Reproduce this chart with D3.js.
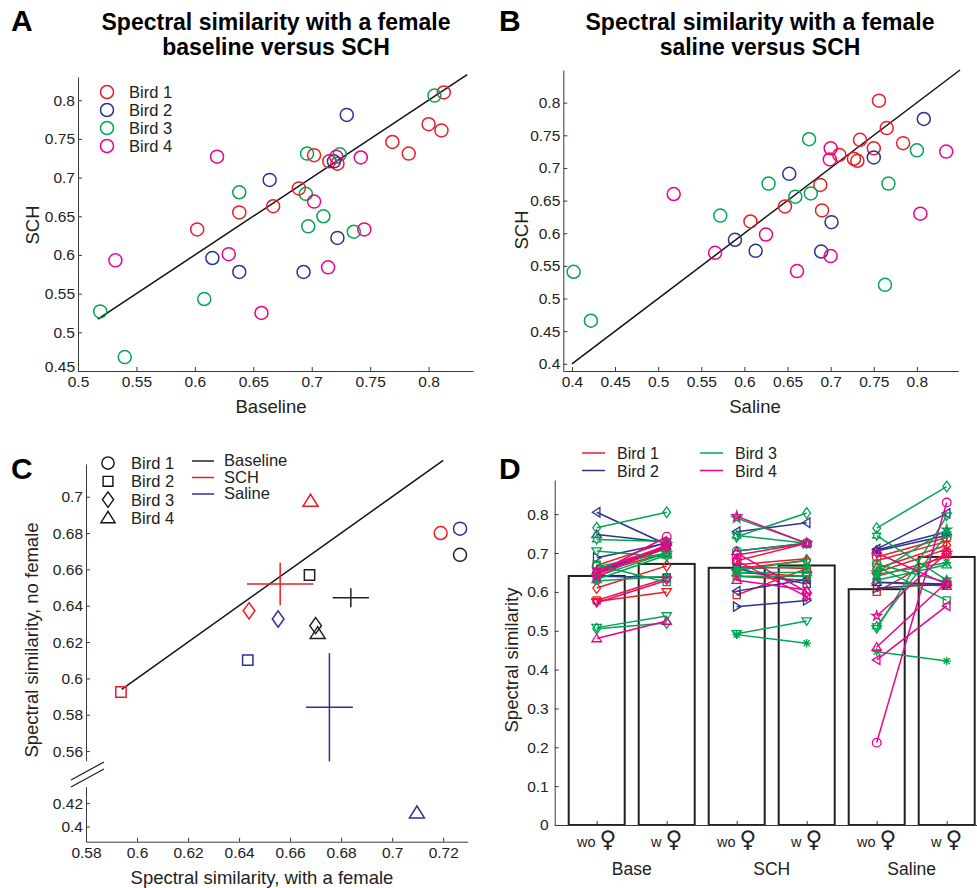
<!DOCTYPE html>
<html>
<head>
<meta charset="utf-8">
<script src="https://cdn.jsdelivr.net/npm/d3@7"></script>
<style>
body { margin: 0; background: #fff; }
svg { font-family: "Liberation Sans", Arial, sans-serif; }
</style>
</head>
<body>
<svg id="fig" width="977" height="888"></svg>
<script>
// ---- data ----
var birds = ["Bird 1", "Bird 2", "Bird 3", "Bird 4"]
var birdColors = ["#ed1c24", "#2e3192", "#00a651", "#ec008c"]

// panel A: [bird, baseline, SCH]
var aPoints = [
  [0,0.602,0.633],[0,0.638,0.655],[0,0.667,0.663],[0,0.689,0.686],[0,0.702,0.729],[0,0.715,0.721],
  [0,0.722,0.718],[0,0.769,0.746],[0,0.783,0.731],[0,0.800,0.769],[0,0.811,0.761],[0,0.813,0.810],
  [1,0.615,0.596],[1,0.638,0.578],[1,0.664,0.697],[1,0.693,0.578],[1,0.719,0.721],[1,0.722,0.622],[1,0.730,0.781],
  [2,0.519,0.527],[2,0.540,0.468],[2,0.608,0.543],[2,0.638,0.681],[2,0.696,0.731],[2,0.695,0.679],
  [2,0.697,0.637],[2,0.710,0.650],[2,0.724,0.730],[2,0.736,0.630],[2,0.805,0.806],
  [3,0.532,0.593],[3,0.619,0.727],[3,0.629,0.601],[3,0.657,0.525],[3,0.702,0.669],[3,0.714,0.584],
  [3,0.721,0.727],[3,0.742,0.726],[3,0.745,0.633]
]
var aTicksX = [0.5,0.55,0.6,0.65,0.7,0.75,0.8]
var aTicksY = [0.45,0.5,0.55,0.6,0.65,0.7,0.75,0.8]

// panel B: [bird, saline, SCH]
var bPoints = [
  [0,0.607,0.618],[0,0.647,0.641],[0,0.688,0.674],[0,0.690,0.635],[0,0.710,0.720],[0,0.727,0.714],
  [0,0.731,0.711],[0,0.734,0.743],[0,0.750,0.730],[0,0.756,0.803],[0,0.765,0.761],[0,0.784,0.738],
  [1,0.589,0.590],[1,0.613,0.573],[1,0.652,0.691],[1,0.689,0.572],[1,0.701,0.617],[1,0.750,0.716],[1,0.808,0.775],
  [2,0.402,0.541],[2,0.422,0.466],[2,0.572,0.627],[2,0.628,0.676],[2,0.659,0.656],[2,0.677,0.661],
  [2,0.675,0.744],[2,0.767,0.676],[2,0.763,0.521],[2,0.800,0.727],
  [3,0.518,0.660],[3,0.566,0.570],[3,0.625,0.598],[3,0.661,0.542],[3,0.700,0.565],[3,0.700,0.730],
  [3,0.699,0.713],[3,0.804,0.630],[3,0.834,0.725]
]
var bTicksX = [0.4,0.45,0.5,0.55,0.6,0.65,0.7,0.75,0.8]
var bTicksY = [0.4,0.45,0.5,0.55,0.6,0.65,0.7,0.75,0.8]

// panel C: conditions, per-bird points [condition, bird, with female, no female]
var conditions = ["Baseline", "SCH", "Saline"]
var condColors = ["#231f20", "#ed1c24", "#2e3192"]
var birdShapes = ["o", "s", "d", "^"]
var cPoints = [
  [0,0,0.7266,0.668],[0,1,0.6676,0.6569],[0,2,0.670,0.629],[0,3,0.6708,0.6248],
  [1,0,0.719,0.680],[1,1,0.5937,0.5925],[1,2,0.6439,0.6372],[1,3,0.668,0.6976],
  [2,0,0.7266,0.6824],[2,1,0.6434,0.6101],[2,2,0.6553,0.6327],[2,3,0.7097,0.4117]
]
// mean and error [condition, x, xerr, y, yerr]
var cMeans = [
  [0,0.6838,0.0071,0.6444,0.0052],
  [1,0.6561,0.0130,0.6519,0.0117],
  [2,0.6754,0.0092,0.5841,0.0298]
]
var cTicksX = [0.58,0.6,0.62,0.64,0.66,0.68,0.7,0.72]
var cTicksYTop = [0.56,0.58,0.6,0.62,0.64,0.66,0.68,0.7]
var cTicksYBottom = [0.4,0.42]

// panel D: bar means (wo female, w female) per condition
var dGroups = ["Base", "SCH", "Saline"]
var dBars = [0.641, 0.672, 0.662, 0.668, 0.607, 0.690]
var dTicksY = [0,0.1,0.2,0.3,0.4,0.5,0.6,0.7,0.8]
// lines: [bird, marker, wo female, w female]
var baseLines = [
  [0,"o",0.668,0.728],[0,"+",0.658,0.718],[0,"d",0.610,0.667],[0,"s",0.578,0.635],
  [0,"v",0.575,0.600],[0,"^",0.650,0.700],[0,"*",0.645,0.712],
  [1,"<",0.805,0.722],[1,"^",0.748,0.728],[1,">",0.688,0.725],[1,"s",0.640,0.637],[1,"+",0.650,0.715],
  [2,"d",0.765,0.805],[2,"h",0.735,0.730],[2,"v",0.705,0.690],[2,"o",0.665,0.700],[2,"p",0.640,0.700],
  [2,"^",0.632,0.695],[2,"*",0.628,0.640],[2,"s",0.670,0.625],[2,"v",0.508,0.538],[2,"d",0.505,0.520],
  [3,"o",0.648,0.742],[3,"p",0.638,0.722],[3,"v",0.572,0.630],[3,"^",0.480,0.525],[3,"h",0.655,0.715]
]
var schLines = [
  [0,"o",0.680,0.725],[0,"+",0.670,0.685],[0,"d",0.660,0.680],[0,"s",0.592,0.660],
  [0,"v",0.650,0.640],[0,"^",0.665,0.660],[0,"*",0.640,0.630],
  [1,"<",0.755,0.778],[1,"^",0.705,0.725],[1,"<",0.602,0.632],[1,">",0.562,0.578],[1,"s",0.660,0.620],
  [2,"d",0.742,0.803],[2,"h",0.745,0.725],[2,"p",0.790,0.725],[2,"o",0.705,0.725],[2,"d",0.655,0.682],
  [2,"^",0.650,0.650],[2,"s",0.640,0.640],[2,"*",0.660,0.665],[2,"v",0.492,0.525],[2,"*",0.490,0.468],
  [3,"p",0.795,0.725],[3,"o",0.695,0.725],[3,"h",0.680,0.588],[3,"^",0.630,0.605],[3,"d",0.700,0.600]
]
var salineLines = [
  [0,"o",0.690,0.740],[0,"+",0.680,0.730],[0,"d",0.660,0.720],[0,"s",0.600,0.700],
  [0,"v",0.640,0.690],[0,"^",0.625,0.615],[0,"*",0.650,0.710],
  [1,"^",0.708,0.755],[1,"<",0.710,0.802],[1,"s",0.625,0.620],[1,">",0.610,0.620],[1,"+",0.705,0.745],
  [2,"d",0.764,0.871],[2,"h",0.745,0.630],[2,"o",0.672,0.625],[2,"s",0.665,0.578],[2,"p",0.650,0.760],
  [2,"*",0.645,0.675],[2,"^",0.630,0.670],[2,"h",0.512,0.748],[2,"v",0.505,0.795],[2,"*",0.446,0.422],
  [3,"o",0.212,0.830],[3,"p",0.538,0.700],[3,"^",0.458,0.625],[3,"<",0.425,0.564],[3,"h",0.700,0.620]
]

// ---- helpers ----
var svg = d3.select('#fig')
var axisColor = '#3a3a3a'
var fmt = function(d){ return String(+d.toFixed(2)) }

function shapePath(t, s){
  var i, pts = []
  switch(t){
    case 'o': return 'M'+s+',0A'+s+','+s+' 0 1,1 '+(-s)+',0A'+s+','+s+' 0 1,1 '+s+',0Z'
    case 's': var h = s*0.82; return 'M'+(-h)+','+(-h)+'H'+h+'V'+h+'H'+(-h)+'Z'
    case 'd': return 'M0,'+(-s*1.25)+'L'+(s*0.9)+',0L0,'+(s*1.25)+'L'+(-s*0.9)+',0Z'
    case '^': return 'M0,'+(-s)+'L'+(s*1.1)+','+(s*0.75)+'L'+(-s*1.1)+','+(s*0.75)+'Z'
    case 'v': return 'M0,'+s+'L'+(s*1.1)+','+(-s*0.75)+'L'+(-s*1.1)+','+(-s*0.75)+'Z'
    case '<': return 'M'+(-s)+',0L'+(s*0.75)+','+(-s*1.1)+'L'+(s*0.75)+','+(s*1.1)+'Z'
    case '>': return 'M'+s+',0L'+(-s*0.75)+','+(-s*1.1)+'L'+(-s*0.75)+','+(s*1.1)+'Z'
    case 'p':
      for(i=0;i<10;i++){
        var r = i%2 ? s*0.42 : s*1.15, a = -Math.PI/2 + i*Math.PI/5
        pts.push([r*Math.cos(a), r*Math.sin(a)])
      }
      return 'M'+pts.join('L')+'Z'
    case 'h':
      for(i=0;i<12;i++){
        var r2 = i%2 ? s*0.6 : s*1.1, a2 = -Math.PI/2 + i*Math.PI/6
        pts.push([r2*Math.cos(a2), r2*Math.sin(a2)])
      }
      return 'M'+pts.join('L')+'Z'
    case '*':
      var k = s*0.72
      return 'M0,'+(-s)+'V'+s+'M'+(-s)+',0H'+s+'M'+(-k)+','+(-k)+'L'+k+','+k+'M'+(-k)+','+k+'L'+k+','+(-k)
    case '+': return 'M0,'+(-s)+'V'+s+'M'+(-s)+',0H'+s
  }
}

function styleAxis(g, size){
  g.select('.domain').attr('stroke', axisColor)
  g.selectAll('.tick line').attr('stroke', axisColor)
  g.selectAll('.tick text').attr('fill', '#222').style('font-size', (size || 15.5) + 'px')
    .style('font-family', '"Liberation Sans", Arial, sans-serif')
}

function title(x, lines){
  svg.append('text').attr('x', x).attr('y', 30).attr('text-anchor','middle')
    .style('font-size','23px').style('font-weight','bold').text(lines[0])
  svg.append('text').attr('x', x).attr('y', 55).attr('text-anchor','middle')
    .style('font-size','23px').style('font-weight','bold').text(lines[1])
}
function letter(x, y, t){
  svg.append('text').attr('x', x).attr('y', y).style('font-size','30px').style('font-weight','bold').text(t)
}
function yLabel(x, y, t){
  svg.append('text').attr('transform','translate('+x+','+y+') rotate(-90)').attr('text-anchor','middle')
    .style('font-size','18.5px').attr('fill','#222').text(t)
}
function xLabel(x, y, t){
  svg.append('text').attr('x', x).attr('y', y).attr('text-anchor','middle')
    .style('font-size','18.5px').attr('fill','#222').text(t)
}

// ---- panel A ----
var ax = d3.scaleLinear().domain([0.5, 0.838]).range([78, 473])
var ay = d3.scaleLinear().domain([0.45, 0.83]).range([371, 77])
letter(11, 31, 'A')
title(276, ['Spectral similarity with a female', 'baseline versus SCH'])
svg.append('g').attr('transform','translate(0,371)')
  .call(d3.axisBottom(ax).tickValues(aTicksX).tickFormat(fmt).tickSizeInner(-4).tickSizeOuter(0).tickPadding(5))
  .call(styleAxis)
svg.append('g').attr('transform','translate(78,0)')
  .call(d3.axisLeft(ay).tickValues(aTicksY).tickFormat(fmt).tickSizeInner(-4).tickSizeOuter(0).tickPadding(3))
  .call(styleAxis)
  .selectAll('.tick text').filter(function(d){ return d === 0.45 }).attr('dy','0.05em')
svg.append('line').attr('x1', ax(0.517)).attr('y1', ay(0.517)).attr('x2', ax(0.833)).attr('y2', ay(0.833))
  .attr('stroke','#111').attr('stroke-width',1.5)
svg.append('g').selectAll('circle').data(aPoints).enter().append('circle')
  .attr('cx', function(d){ return ax(d[1]) }).attr('cy', function(d){ return ay(d[2]) })
  .attr('r', 6.5).attr('fill','none').attr('stroke-width',1.5)
  .attr('stroke', function(d){ return birdColors[d[0]] })
var aLeg = svg.append('g').selectAll('g').data(birds).enter().append('g')
  .attr('transform', function(d,i){ return 'translate(107,' + (92 + i*18) + ')' })
aLeg.append('circle').attr('r',6.5).attr('fill','none').attr('stroke-width',1.5)
  .attr('stroke', function(d,i){ return birdColors[i] })
aLeg.append('text').attr('x',22).attr('y',6).style('font-size','16.5px').attr('fill','#222').text(function(d){ return d })
xLabel(271, 413, 'Baseline')
yLabel(39, 225, 'SCH')

// ---- panel B ----
var bx = d3.scaleLinear().domain([0.39, 0.848]).range([563.3, 958.3])
var by = d3.scaleLinear().domain([0.389, 0.85]).range([371, 70])
letter(499, 31, 'B')
title(760, ['Spectral similarity with a female', 'saline versus SCH'])
svg.append('g').attr('transform','translate(0,371)')
  .call(d3.axisBottom(bx).tickValues(bTicksX).tickFormat(fmt).tickSizeInner(-4).tickSizeOuter(0).tickPadding(5))
  .call(styleAxis)
svg.append('g').attr('transform','translate(563.3,0)')
  .call(d3.axisLeft(by).tickValues(bTicksY).tickFormat(fmt).tickSizeInner(-4).tickSizeOuter(0).tickPadding(3))
  .call(styleAxis)
svg.append('line').attr('x1', bx(0.4)).attr('y1', by(0.4)).attr('x2', bx(0.85)).attr('y2', by(0.85))
  .attr('stroke','#111').attr('stroke-width',1.5)
svg.append('g').selectAll('circle').data(bPoints).enter().append('circle')
  .attr('cx', function(d){ return bx(d[1]) }).attr('cy', function(d){ return by(d[2]) })
  .attr('r', 6.5).attr('fill','none').attr('stroke-width',1.5)
  .attr('stroke', function(d){ return birdColors[d[0]] })
xLabel(755, 413, 'Saline')
yLabel(528, 230, 'SCH')

// ---- panel C ----
var cx = d3.scaleLinear().domain([0.58, 0.7296]).range([86, 467.7])
var cyTop = d3.scaleLinear().domain([0.5547, 0.718]).range([760.7, 464])
var cyBot = d3.scaleLinear().domain([0.387, 0.434]).range([841.7, 786.7])
function cy(v){ return v < 0.5 ? cyBot(v) : cyTop(v) }
letter(11, 479, 'C')
svg.append('g').attr('transform','translate(0,841.7)')
  .call(d3.axisBottom(cx).tickValues(cTicksX).tickFormat(fmt).tickSizeInner(-4).tickSizeOuter(0).tickPadding(5))
  .call(styleAxis)
svg.append('g').attr('transform','translate(86,0)')
  .call(d3.axisLeft(cyTop).tickValues(cTicksYTop).tickFormat(fmt).tickSizeInner(-4).tickSizeOuter(0).tickPadding(3))
  .call(styleAxis)
svg.append('g').attr('transform','translate(86,0)')
  .call(d3.axisLeft(cyBot).tickValues(cTicksYBottom).tickFormat(fmt).tickSizeInner(-4).tickSizeOuter(0).tickPadding(3))
  .call(styleAxis)
// axis break
svg.append('path').attr('d','M71,780L104,762M71,787L104,769').attr('stroke','#222').attr('stroke-width',1.3)
svg.append('line').attr('x1', cx(0.594)).attr('y1', cy(0.594)).attr('x2', cx(0.72)).attr('y2', cy(0.72))
  .attr('stroke','#111').attr('stroke-width',1.5)
var shapeSize = { o: 6.5, s: 6.3, d: 6.5, '^': 6.8 }
svg.append('g').selectAll('path').data(cPoints).enter().append('path')
  .attr('transform', function(d){ return 'translate(' + cx(d[2]) + ',' + cy(d[3]) + ')' })
  .attr('d', function(d){ var t = birdShapes[d[1]]; return shapePath(t, shapeSize[t]) })
  .attr('fill','none').attr('stroke-width',1.5)
  .attr('stroke', function(d){ return condColors[d[0]] })
var crosses = svg.append('g').selectAll('g').data(cMeans).enter().append('g')
  .attr('stroke', function(d){ return condColors[d[0]] }).attr('stroke-width',1.5)
crosses.append('line')
  .attr('x1', function(d){ return cx(d[1]-d[2]) }).attr('x2', function(d){ return cx(d[1]+d[2]) })
  .attr('y1', function(d){ return cy(d[3]) }).attr('y2', function(d){ return cy(d[3]) })
crosses.append('line')
  .attr('x1', function(d){ return cx(d[1]) }).attr('x2', function(d){ return cx(d[1]) })
  .attr('y1', function(d){ return cy(d[3]-d[4]) }).attr('y2', function(d){ return cy(d[3]+d[4]) })
var cLeg = svg.append('g').selectAll('g').data(birds).enter().append('g')
  .attr('transform', function(d,i){ return 'translate(108,' + (463 + i*18.3) + ')' })
cLeg.append('path').attr('d', function(d,i){ var t = birdShapes[i]; return shapePath(t, shapeSize[t]*0.95) })
  .attr('fill','none').attr('stroke','#111').attr('stroke-width',1.4)
cLeg.append('text').attr('x',23).attr('y',6).style('font-size','16.5px').attr('fill','#222').text(function(d){ return d })
var cLeg2 = svg.append('g').selectAll('g').data(conditions).enter().append('g')
  .attr('transform', function(d,i){ return 'translate(192,' + (461 + i*16.5) + ')' })
cLeg2.append('line').attr('x1',0).attr('x2',22).attr('stroke-width',1.5)
  .attr('stroke', function(d,i){ return condColors[i] })
cLeg2.append('text').attr('x',32).attr('y',5).style('font-size','16.5px').attr('fill','#222').text(function(d){ return d })
xLabel(262, 884, 'Spectral similarity, with a female')
yLabel(38, 640, 'Spectral similarity, no female')

// ---- panel D ----
var dx = d3.scaleLinear().domain([0.4, 6.6]).range([554.7, 988.7])
var dy = d3.scaleLinear().domain([0, 0.888]).range([825, 480])
letter(499, 479, 'D')
svg.append('g').selectAll('rect').data(dBars).enter().append('rect')
  .attr('x', function(d,i){ return dx(i + 1 - 0.4) }).attr('width', dx(1.8) - dx(1))
  .attr('y', function(d){ return dy(d) }).attr('height', function(d){ return dy(0) - dy(d) })
  .attr('fill','#fff').attr('stroke','#231f20').attr('stroke-width',2)
svg.append('g').attr('transform','translate(0,825)')
  .call(d3.axisBottom(dx).tickValues([1,2,3,4,5,6]).tickFormat('').tickSizeInner(-4).tickSizeOuter(0))
  .call(styleAxis)
svg.append('g').attr('transform','translate(554.7,0)')
  .call(d3.axisLeft(dy).tickValues(dTicksY).tickFormat(fmt).tickSizeInner(-4).tickSizeOuter(0).tickPadding(6))
  .call(styleAxis)

var allLines = [baseLines, schLines, salineLines]
allLines.forEach(function(lines, gi){
  var xWo = dx(gi*2 + 1), xW = dx(gi*2 + 2)
  var g = svg.append('g')
  var sorted = lines.slice().sort(function(a,b){ return a[0] - b[0] })
  var item = g.selectAll('g').data(sorted).enter().append('g')
    .attr('stroke', function(d){ return birdColors[d[0]] }).attr('fill','none')
  item.append('line').attr('x1', xWo).attr('x2', xW)
    .attr('y1', function(d){ return dy(d[2]) }).attr('y2', function(d){ return dy(d[3]) })
    .attr('stroke-width',1.5)
  item.append('path').attr('transform', function(d){ return 'translate(' + xWo + ',' + dy(d[2]) + ')' })
    .attr('d', function(d){ return shapePath(d[1], 4.3) }).attr('stroke-width',1.3)
  item.append('path').attr('transform', function(d){ return 'translate(' + xW + ',' + dy(d[3]) + ')' })
    .attr('d', function(d){ return shapePath(d[1], 4.3) }).attr('stroke-width',1.3)
})

// x tick labels
var tickLab = svg.append('g').selectAll('text').data([1,2,3,4,5,6]).enter().append('text')
  .attr('x', function(d){ return dx(d) }).attr('y', 847).attr('text-anchor','middle')
  .style('font-size','14.5px').attr('fill','#222')
tickLab.append('tspan').text(function(d){ return d % 2 ? 'wo ' : 'w ' })
tickLab.append('tspan').style('font-size','23px').style('font-family','"DejaVu Sans"').text('\u2640')
svg.append('g').selectAll('text').data(dGroups).enter().append('text')
  .attr('x', function(d,i){ return dx(i*2 + 1.5) }).attr('y', 875).attr('text-anchor','middle')
  .style('font-size','17.5px').attr('fill','#222').text(function(d){ return d })
var dLeg = svg.append('g').selectAll('g').data(birds).enter().append('g')
  .attr('transform', function(d,i){ return 'translate(' + (582 + Math.floor(i/2)*118) + ',' + (453 + (i%2)*17.5) + ')' })
dLeg.append('line').attr('x1',0).attr('x2',23).attr('stroke-width',1.5)
  .attr('stroke', function(d,i){ return birdColors[i] })
dLeg.append('text').attr('x',35).attr('y',6).style('font-size','16px').attr('fill','#222').text(function(d){ return d })
yLabel(518, 660, 'Spectral similarity')
</script>
</body>
</html>
